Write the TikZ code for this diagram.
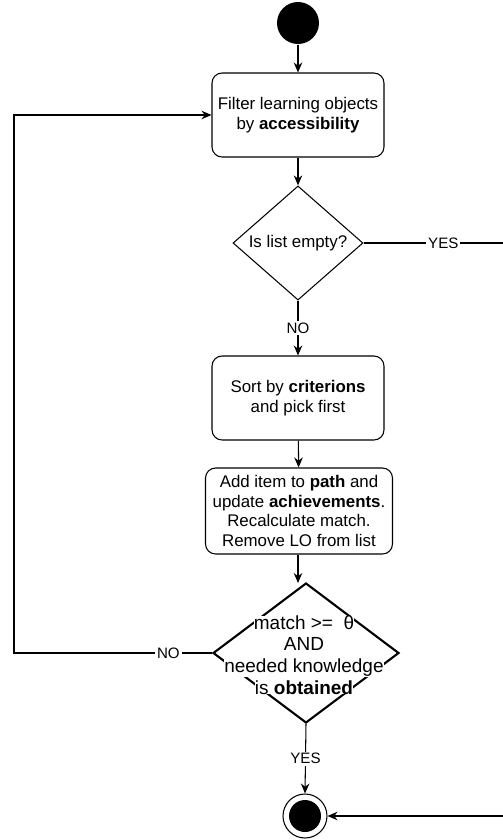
\documentclass[tikz,border=0pt]{standalone}
\usepackage{fontspec}
\setmainfont{Liberation Sans}
\usetikzlibrary{shapes.geometric}
\usetikzlibrary{arrows.meta}
\usetikzlibrary{positioning}
\setlength{\fboxsep}{0pt}

\begin{document}
\begin{tikzpicture}[
    x=0.02cm, y=-0.02cm,
    font=\fontsize{9.6}{11.2}\selectfont,
    line width=0.6pt,
    arr/.style={-{Stealth[length=0.2cm,width=0.17cm]}},
    actbox/.style={draw, rounded corners=0.2cm, align=center, inner sep=2pt},
    decide/.style={draw, diamond, align=center, inner sep=0pt},
    lbl/.style={fill=white, inner sep=1pt, font=\fontsize{8.6}{10}\selectfont},
 ]
    \useasboundingbox (0,0) rectangle (503,840);
    \node[circle, fill=black, minimum size=0.84cm, inner sep=0pt] (Start) at (298,23) {};
    \node[actbox, minimum width=3.44cm, minimum height=1.68cm] (Filter) at (298,115) {Filter learning objects\\by \textbf{accessibility}};
    \node[decide, minimum width=2.6cm, minimum height=2.22cm] (Empty) at (298,243) {Is list empty?};
    \node[actbox, minimum width=3.44cm, minimum height=1.68cm] (Sort) at (298,398) {Sort by \textbf{criterions}\\and pick first};
    \node[actbox, minimum width=3.74cm, minimum height=1.72cm] (Add) at (299,511) {Add item to \textbf{path} and\\update \textbf{achievements}.\\Recalculate match.\\Remove LO from list};
    \node[decide, line width=1.2pt, minimum width=3.72cm, minimum height=2.8cm] (Match) at (306,653) {};
    \node[align=center, font=\fontsize{10.8}{12.3}\selectfont] (MatchTxt) at (304,655) {\colorbox{white}{match >=\ \ θ}\\\colorbox{white}{AND}\\\colorbox{white}{needed knowledge}\\\colorbox{white}{is \textbf{obtained}}};
    \node[circle, draw, minimum size=0.88cm, inner sep=0pt] (Finish) at (305,816) {};
    \fill (Finish.center) circle (0.32cm);
    \coordinate (YesR) at (506,243);
    \coordinate (EndR) at (506,816);
    \coordinate (NoL) at (14,653);

    \draw[arr] (Start) -- (Filter);
    \draw[arr] (Filter) -- (Empty);
    \draw[arr] (Empty.east) -- node[lbl, pos=0.56] {YES} (YesR) -- (EndR) -- (Finish.east);
    \draw[arr] (Empty.south) -- node[lbl] {NO} (Sort.north);
    \draw[arr] (Sort) -- (Add);
    \draw[arr] (Add.south -| 298,0) -- (298,583);
    \draw[arr] (Match.west) -- node[lbl, pos=0.22] {NO} (NoL) |- (Filter.west);
    \draw[arr] (Match.south) -- node[lbl] {YES} (Finish.north);
\end{tikzpicture}
\end{document}
